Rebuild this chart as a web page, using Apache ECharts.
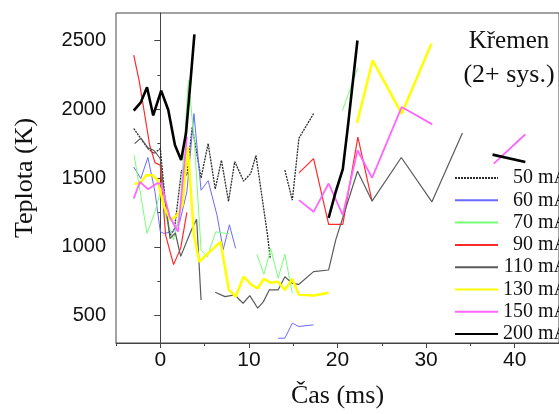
<!DOCTYPE html>
<html><head><meta charset="utf-8">
<script src="https://cdn.jsdelivr.net/npm/echarts@6/dist/echarts.min.js"></script>
<style>html,body{margin:0;padding:0;background:#fff}#c{width:559px;height:414px}</style>
</head><body><div id="c"></div>
<script>
// ---- data (time ms, temperature K); null = gap ----
const seriesNames = ['50 mA','60 mA','70 mA','90 mA','110 mA','130 mA','150 mA','200 mA'];
const xMajorTicks = [0,10,20,30,40];
const xMinorTicks = [-5,5,15,25,35];
const yMajorTicks = [500,1000,1500,2000,2500];
const yMinorTicks = [750,1250,1750,2250];

const d50 = [[-3.0,1860],[-2.2,1787],[-1.4,1714],[-0.7,1678],[0.0,1714],[0.6,1300],[1.1,1080],[1.6,1130],[2.4,1557],[3.0,1520],[3.6,1870],[4.6,1500],[5.4,1750],[6.2,1420],[6.9,1629],[7.7,1330],[8.4,1620],[9.4,1477],[10.2,1532],[10.8,1665],[12.1,1085],[12.4,920],[13.2,null],[14.06,1557],[14.9,1339],[15.65,1790],[17.3,1968]];
const d60 = [[-3.0,1580],[-2.2,1496],[-1.4,1649],[-0.6,1400],[0.0,1110],[0.4,1097],[1.4,1109],[2.2,1182],[3.0,1400],[3.8,1968],[4.6,1411],[5.4,1480],[6.4,1230],[7.1,980],[7.8,1160],[8.5,988],[11,null],[13.3,335],[14.06,335],[14.9,444],[15.65,420],[17.3,432]];
const d70 = [[-2.95,1665],[-1.5,1097],[-0.6,1254],[0.06,1411],[0.7,1200],[1.5,1050],[2.2,1250],[3.17,2210],[3.84,1774],[4.6,976],[5.3,927],[6.26,1109],[7.0,1100],[7.74,1097],[9.5,null],[10.9,945],[11.7,800],[12.46,988],[13.3,771],[14.06,945],[14.9,662],[18,null],[20.56,1990],[22.26,2297]];
const d90 = [[-3.0,2393],[-2.4,2212],[-1.6,1898],[-1.2,1738],[-0.6,1612],[0.0,1593],[0.6,1085],[1.5,870],[2.3,990],[3.0,1250],[9,null],[15.65,1537],[17.3,1641],[19.0,1163],[20.6,1163],[22.3,1798],[23.9,1332]];
const d110 = [[-2.9,1750],[-2.2,1790],[-1.4,1720],[-0.7,1700],[0.0,1640],[0.6,1300],[1.1,1060],[1.7,1100],[2.3,930],[3.5,1120],[4.1,1200],[4.6,613],[5.4,null],[6.2,669],[7.3,637],[8.4,650],[9.34,589],[10.1,645],[11.0,553],[11.64,601],[12.3,686],[13.3,686],[14.06,782],[14.9,734],[15.65,727],[17.3,819],[19.0,831],[19.8,1050],[22.26,1549],[23.9,1332],[27.2,1649],[30.66,1327],[34.1,1827]];
const d130 = [[-2.9,1460],[-2.3,1460],[-1.6,1520],[-0.9,1520],[-0.3,1484],[0.43,1290],[1.17,1194],[1.9,1230],[2.5,1300],[3.1,1726],[3.8,1085],[4.4,891],[5.6,964],[6.8,1036],[7.74,686],[8.5,637],[9.4,782],[10.3,722],[11.0,698],[11.7,766],[12.4,739],[13.3,746],[14.06,686],[14.9,766],[15.65,650],[17.4,645],[19.0,666],[20.5,null],[22.2,1900],[23.97,2355],[27.24,1968],[30.6,2476]];
const d150 = [[-3.0,1351],[-2.3,1472],[-1.4,1419],[-0.4,1460],[0.1,1460],[1.06,1218],[2.0,1109],[3.0,1800],[9,null],[15.65,1339],[17.3,1254],[19.0,1460],[20.6,1230],[22.26,1702],[23.9,1501],[27.24,2016],[30.7,1890],[34,null],[37.64,1605],[41.2,1818]];
const d200 = [[-3.0,1990],[-2.2,2050],[-1.5,2160],[-0.8,1955],[0.1,2135],[0.9,1995],[1.65,1740],[2.35,1630],[2.9,1825],[3.45,2235],[3.85,2545],[10,null],[19.0,1210],[19.8,1400],[20.6,1565],[21.2,1890],[22.25,2500],[30,null],[37.5,1670],[41.2,1617]];

const allData = [d50,d60,d70,d90,d110,d130,d150,d200];
const colors = ['#2a2a2a','#6a6aff','#77ff77','#ff2a2a','#5a5a5a','#ffff00','#ff66ff','#000000'];
const widths = [1.3,1,1,1.2,1.2,2.5,1.8,2.6];
const types = [[2,1],'solid','solid','solid','solid','solid','solid','solid'];

const serif = 'Liberation Serif';
const sans = 'Liberation Sans';

const chart = echarts.init(document.getElementById('c'), null, {renderer:'canvas'});
const series = seriesNames.map((n,i)=>({
  name:n, type:'line', data:allData[i], showSymbol:false, symbol:'none',
  connectNulls:false, silent:true, animation:false, z: 2+i,
  lineStyle:{color:colors[i], width:widths[i], type:types[i]},
  itemStyle:{color:colors[i]}
}));

chart.setOption({
  animation:false,
  backgroundColor:'#fff',
  grid:{left:116, top:13, right:-5, bottom:70, show:true, borderColor:'#444', borderWidth:1},
  xAxis:[{
    type:'value', min:-5, max:45,
    name:'Čas (ms)', nameLocation:'middle', nameGap:40,
    nameTextStyle:{fontFamily:serif, fontSize:26, color:'#111'},
    axisLine:{show:true, lineStyle:{color:'#444', width:1}},
    axisTick:{show:true, customValues:xMajorTicks, length:5, lineStyle:{color:'#444'}},
    axisLabel:{customValues:xMajorTicks, fontFamily:sans, fontSize:21, color:'#111', margin:7, formatter:v=>String(v)},
    splitLine:{show:false}
  },{
    type:'value', min:-5, max:45, position:'bottom',
    axisLine:{show:false},
    axisTick:{show:true, customValues:xMinorTicks, length:3, lineStyle:{color:'#444'}},
    axisLabel:{show:false}, splitLine:{show:false}
  }],
  yAxis:[{
    type:'value', min:300, max:2700,
    name:'Teplota (K)', nameLocation:'middle', nameGap:78, nameRotate:90,
    nameTextStyle:{fontFamily:serif, fontSize:26, color:'#111'},
    axisLine:{show:true, lineStyle:{color:'#444', width:1}},
    axisTick:{show:true, customValues:yMajorTicks, length:6, lineStyle:{color:'#444'}},
    axisLabel:{customValues:yMajorTicks, fontFamily:sans, fontSize:20, color:'#111', margin:10, formatter:v=>String(v)},
    splitLine:{show:false}
  },{
    type:'value', min:300, max:2700, position:'left',
    axisLine:{show:false},
    axisTick:{show:true, customValues:yMinorTicks, length:3, lineStyle:{color:'#444'}},
    axisLabel:{show:false}, splitLine:{show:false}
  }],
  legend:{
    orient:'vertical', left:454, top:168, padding:0,
    itemWidth:43, itemHeight:14, itemGap:2.3,
    data:seriesNames,
    itemStyle:{opacity:0},
    formatter: n => '{a|' + n + '}',
    textStyle:{fontFamily:serif, fontSize:20, color:'#111',
      rich:{a:{fontFamily:serif, fontSize:20, color:'#111', width:65, align:'right'}}},
    selectedMode:false
  },
  graphic:[
    {type:'text', x:509, y:41, style:{text:'Křemen', font:'25px "Liberation Serif"', fill:'#111', align:'center', verticalAlign:'middle'}},
    {type:'text', x:509, y:75, style:{text:'(2+ sys.)', font:'26px "Liberation Serif"', fill:'#111', align:'center', verticalAlign:'middle'}}
  ],
  series: series
});
</script></body></html>
